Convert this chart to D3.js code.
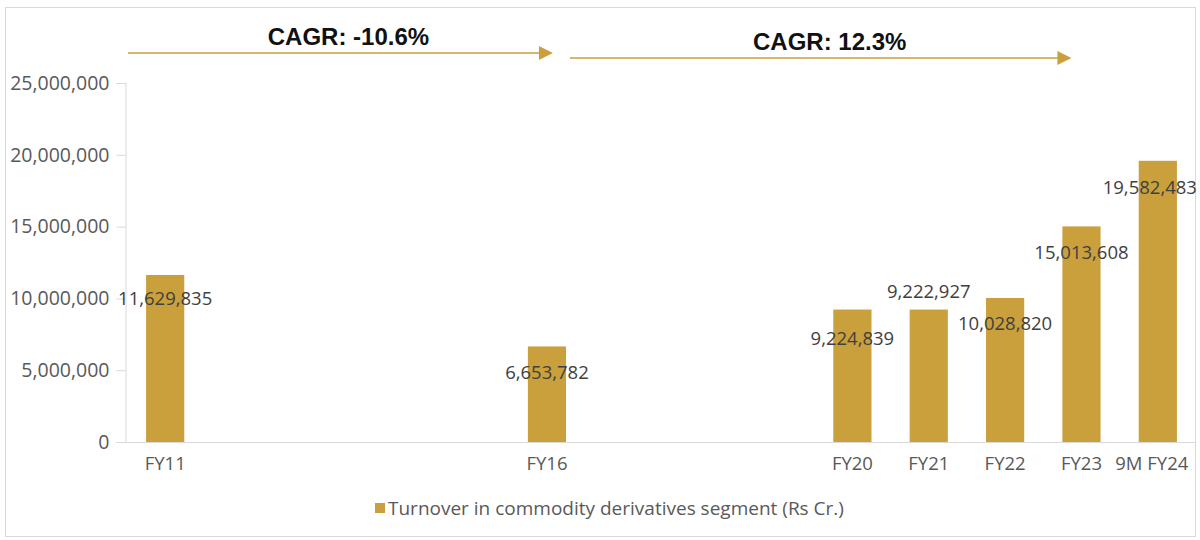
<!DOCTYPE html>
<html>
<head>
<meta charset="utf-8">
<script src="https://cdn.jsdelivr.net/npm/d3@7"></script>
<style>
  body { margin: 0; background: #fff; }
  svg { display: block; }
</style>
</head>
<body>
<svg id="chart"></svg>
<script>
// all fiscal years on the axis, gaps included
const years = ['FY11', 'FY12', 'FY13', 'FY14', 'FY15', 'FY16', 'FY17', 'FY18', 'FY19', 'FY20', 'FY21', 'FY22', 'FY23', 'FY24'];
const categories = ['FY11', 'FY16', 'FY20', 'FY21', 'FY22', 'FY23', 'FY24'];
const tickLabels = ['FY11', 'FY16', 'FY20', 'FY21', 'FY22', 'FY23', '9M FY24'];
const turnover = [11629835, 6653782, 9224839, 9222927, 10028820, 15013608, 19582483];
const yTicks = [0, 5000000, 10000000, 15000000, 20000000, 25000000];
const cagrLabels = ['CAGR: -10.6%', 'CAGR: 12.3%'];
const seriesName = 'Turnover in commodity derivatives segment (Rs Cr.)';

// where each value label sits relative to its bar top (layout only)
const labelShift = [[0, 23], [0, 25], [0, 28], [0, -19], [0, 25], [0, 25], [-8, 26]];

const width = 1200, height = 540;
const gold = '#c9a03b';
const fontFamily = '"Open Sans", "Noto Sans", sans-serif';

const svg = d3.select('#chart')
    .attr('width', width)
    .attr('height', height);

svg.append('rect')
    .attr('x', 5.5).attr('y', 7.5)
    .attr('width', 1190).attr('height', 529)
    .attr('fill', '#fff')
    .attr('stroke', '#d9d9d9');

const x = d3.scaleBand()
    .domain(years)
    .range([127, 1196])
    .paddingInner(0.5)
    .paddingOuter(0.25);

const y = d3.scaleLinear()
    .domain([0, 25000000])
    .range([442, 83]);

const cx = d => x(d) + x.bandwidth() / 2;

// y axis
const yAxis = d3.axisLeft(y)
    .tickValues(yTicks)
    .tickSize(9)
    .tickPadding(7)
    .tickFormat(d3.format(','));

const yg = svg.append('g')
    .attr('transform', 'translate(125.5,0)')
    .call(yAxis);
yg.select('.domain').attr('stroke', '#d9d9d9');
yg.selectAll('.tick line').attr('stroke', '#d9d9d9');
yg.selectAll('.tick text')
    .attr('fill', '#595959')
    .style('font-family', fontFamily)
    .style('font-size', '19.5px');

// x axis
const xAxis = d3.axisBottom(x)
    .tickValues(categories)
    .tickSize(0)
    .tickPadding(14)
    .tickFormat(d => tickLabels[categories.indexOf(d)]);

const xg = svg.append('g')
    .attr('transform', 'translate(0,442.5)')
    .call(xAxis);
xg.select('.domain').attr('stroke', '#d9d9d9').attr('d', 'M125,0H1196');
xg.selectAll('.tick text')
    .attr('fill', '#595959')
    .style('font-family', fontFamily)
    .style('font-size', '18.5px');
xg.selectAll('.tick text').filter(d => d === 'FY24').attr('dx', -6);

// bars
svg.append('g')
    .selectAll('rect')
    .data(categories)
    .enter()
    .append('rect')
    .attr('x', d => x(d))
    .attr('y', (d, i) => y(turnover[i]))
    .attr('width', x.bandwidth())
    .attr('height', (d, i) => y(0) - y(turnover[i]))
    .attr('fill', gold);

// value labels
svg.append('g')
    .selectAll('text')
    .data(categories)
    .enter()
    .append('text')
    .attr('x', (d, i) => cx(d) + labelShift[i][0])
    .attr('y', (d, i) => y(turnover[i]) + labelShift[i][1])
    .attr('text-anchor', 'middle')
    .attr('dominant-baseline', 'central')
    .attr('fill', '#404040')
    .style('font-family', fontFamily)
    .style('font-size', '18.5px')
    .text((d, i) => d3.format(',')(turnover[i]));

// CAGR arrows
const arrows = [
    { x1: x.range()[0] + 1, x2: cx('FY16') + 6, yy: 53, ty: 36, dx: 8 },
    { x1: cx('FY16') + 23, x2: cx('FY23') - 10, yy: 58, ty: 41, dx: 9 }
];

const ag = svg.append('g');
arrows.forEach((a, i) => {
    ag.append('line')
        .attr('x1', a.x1).attr('x2', a.x2 - 12)
        .attr('y1', a.yy).attr('y2', a.yy)
        .attr('stroke', gold)
        .attr('stroke-width', 1.6);
    ag.append('path')
        .attr('d', `M${a.x2 - 14},${a.yy - 7}L${a.x2},${a.yy}L${a.x2 - 14},${a.yy + 7}Z`)
        .attr('fill', gold);
    ag.append('text')
        .attr('x', (a.x1 + a.x2) / 2 + a.dx)
        .attr('y', a.ty)
        .attr('text-anchor', 'middle')
        .attr('dominant-baseline', 'central')
        .attr('fill', '#111')
        .style('font-family', '"Liberation Sans", Arial, sans-serif')
        .style('font-weight', 'bold')
        .style('font-size', '24px')
        .text(cagrLabels[i]);
});

// legend
const lg = svg.append('g').attr('transform', 'translate(375,508)');
lg.append('rect')
    .attr('x', 0).attr('y', -5)
    .attr('width', 10).attr('height', 10)
    .attr('fill', gold);
lg.append('text')
    .attr('x', 13).attr('y', 0)
    .attr('dominant-baseline', 'central')
    .attr('fill', '#595959')
    .style('font-family', fontFamily)
    .style('font-size', '19px')
    .text(seriesName);
</script>
</body>
</html>
